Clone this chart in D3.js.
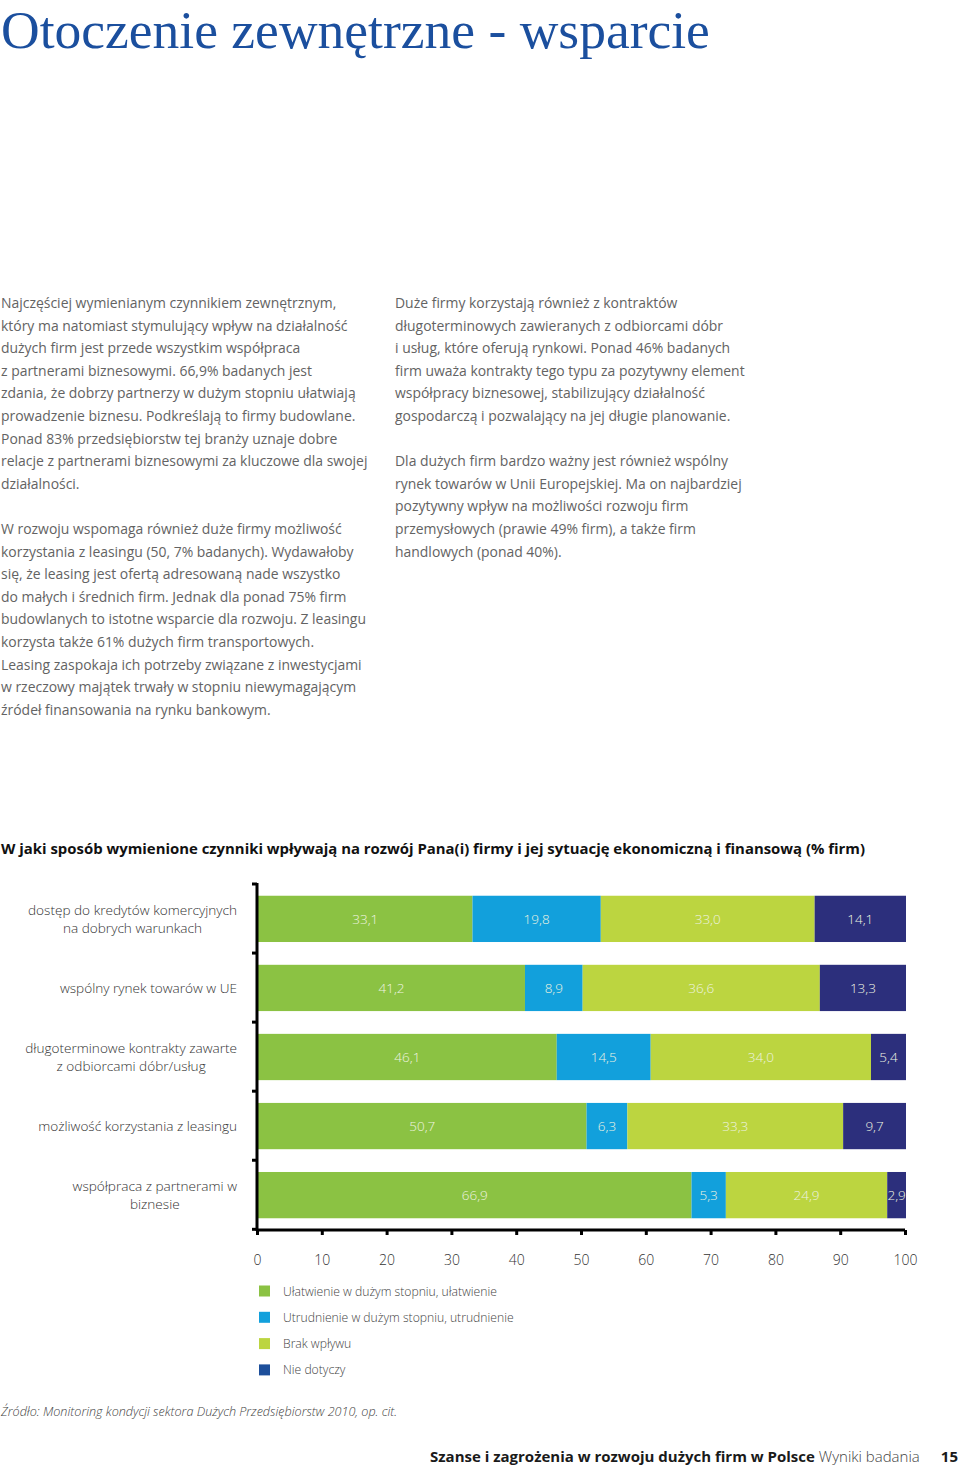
<!DOCTYPE html>
<html><head><meta charset="utf-8">
<script src="https://cdn.jsdelivr.net/npm/d3@7"></script>
<style>
html,body{margin:0;padding:0;background:#fff;}
svg{display:block;}
</style></head>
<body>
<svg id="page" width="960" height="1465"></svg>
<script>
// ---------- DATA ----------
const pageTitle = "Otoczenie zewnętrzne - wsparcie";
const leftColumn = [
 "Najczęściej wymienianym czynnikiem zewnętrznym,",
 "który ma natomiast stymulujący wpływ na działalność",
 "dużych firm jest przede wszystkim współpraca",
 "z partnerami biznesowymi. 66,9% badanych jest",
 "zdania, że dobrzy partnerzy w dużym stopniu ułatwiają",
 "prowadzenie biznesu. Podkreślają to firmy budowlane.",
 "Ponad 83% przedsiębiorstw tej branży uznaje dobre",
 "relacje z partnerami biznesowymi za kluczowe dla swojej",
 "działalności.",
 "",
 "W rozwoju wspomaga również duże firmy możliwość",
 "korzystania z leasingu (50, 7% badanych). Wydawałoby",
 "się, że leasing jest ofertą adresowaną nade wszystko",
 "do małych i średnich firm. Jednak dla ponad 75% firm",
 "budowlanych to istotne wsparcie dla rozwoju. Z leasingu",
 "korzysta także 61% dużych firm transportowych.",
 "Leasing zaspokaja ich potrzeby związane z inwestycjami",
 "w rzeczowy majątek trwały w stopniu niewymagającym",
 "źródeł finansowania na rynku bankowym."
];
const rightColumn = [
 "Duże firmy korzystają również z kontraktów",
 "długoterminowych zawieranych z odbiorcami dóbr",
 "i usług, które oferują rynkowi. Ponad 46% badanych",
 "firm uważa kontrakty tego typu za pozytywny element",
 "współpracy biznesowej, stabilizujący działalność",
 "gospodarczą i pozwalający na jej długie planowanie.",
 "",
 "Dla dużych firm bardzo ważny jest również wspólny",
 "rynek towarów w Unii Europejskiej. Ma on najbardziej",
 "pozytywny wpływ na możliwości rozwoju firm",
 "przemysłowych (prawie 49% firm), a także firm",
 "handlowych (ponad 40%)."
];
const chartTitle = "W jaki sposób wymienione czynniki wpływają na rozwój Pana(i) firmy i jej sytuację ekonomiczną i finansową (% firm)";
const categories = [
 "dostęp do kredytów komercyjnych\nna dobrych warunkach",
 "wspólny rynek towarów w UE",
 "długoterminowe kontrakty zawarte\nz odbiorcami dóbr/usług",
 "możliwość korzystania z leasingu",
 "współpraca z partnerami w\nbiznesie"
];
const seriesNames = [
 "Ułatwienie w dużym stopniu, ułatwienie",
 "Utrudnienie w dużym stopniu, utrudnienie",
 "Brak wpływu",
 "Nie dotyczy"
];
const ulatwienie  = [33.1, 41.2, 46.1, 50.7, 66.9];
const utrudnienie = [19.8,  8.9, 14.5,  6.3,  5.3];
const brakWplywu  = [33.0, 36.6, 34.0, 33.3, 24.9];
const nieDotyczy  = [14.1, 13.3,  5.4,  9.7,  2.9];
const xTicks = [0,10,20,30,40,50,60,70,80,90,100];
const sourceText = "Źródło: Monitoring kondycji sektora Dużych Przedsiębiorstw 2010, op. cit.";
const footerBold = "Szanse i zagrożenia w rozwoju dużych firm w Polsce";
const footerRegular = " Wyniki badania";
const pageNumber = "15";

// ---------- STYLE ----------
const barColors = ["#8bc243", "#12a0dc", "#bcd540", "#2c2f7c"];
const legendColors = ["#8bc243", "#12a0dc", "#bcd540", "#1d4f9b"];
const sans = "'Open Sans', 'Noto Sans', 'DejaVu Sans', sans-serif";

const svg = d3.select("#page");

// Title
const title = svg.append("text")
  .attr("x", 1).attr("y", 48)
  .attr("font-family", "'Liberation Serif', 'DejaVu Serif', serif")
  .attr("font-size", 50).attr("fill", "#1b4f9e")
  .text(pageTitle);
{
  const w = title.node().getComputedTextLength();
  title.attr("font-size", 50 * 709 / w);
}

// Body columns
function column(lines, x, y0) {
  const t = svg.append("text").attr("font-family", sans).attr("font-weight", 400)
    .attr("font-size", 13.95).attr("fill", "#636363");
  lines.forEach((l, i) => {
    t.append("tspan").attr("x", x).attr("y", y0 + i * 22.6).text(l || " ");
  });
}
column(leftColumn, 1, 308);
column(rightColumn, 395, 308);

// Chart title
const ct = svg.append("text").attr("x", 1).attr("y", 854)
  .attr("font-family", sans).attr("font-weight", 700).attr("font-size", 14.8)
  .attr("fill", "#111").text(chartTitle);
ct.attr("textLength", 864).attr("lengthAdjust", "spacingAndGlyphs");

// ---------- CHART ----------
const x = d3.scaleLinear().domain([0, 100]).range([257, 905]);
const y = d3.scaleBand().domain(d3.range(categories.length)).range([884, 1230])
  .paddingInner(0.33).paddingOuter(0.17);

const rows = categories.map((c, i) => ({
  i, s0: ulatwienie[i], s1: utrudnienie[i], s2: brakWplywu[i], s3: nieDotyczy[i]
}));
const stack = d3.stack().keys(["s0", "s1", "s2", "s3"]);
const layers = stack(rows);
const pl = d3.formatLocale({decimal: ",", thousands: " ", grouping: [3], currency: ["", " zł"]});
const fmt = pl.format(".1f");

const g = svg.append("g");
layers.forEach((layer, k) => {
  const lg = g.append("g");
  lg.selectAll("rect").data(layer).join("rect")
    .attr("x", d => x(d[0]) + 1)
    .attr("y", d => y(d.data.i))
    .attr("width", d => x(d[1]) - x(d[0]))
    .attr("height", y.bandwidth())
    .attr("fill", barColors[k]);
  lg.selectAll("text").data(layer).join("text")
    .attr("x", d => (x(d[0]) + x(d[1])) / 2 + 1)
    .attr("y", d => y(d.data.i) + y.bandwidth() / 2 + 5)
    .attr("text-anchor", "middle")
    .attr("font-family", sans).attr("font-weight", 300).attr("font-size", 13.5)
    .attr("fill", "#eef3e0")
    .text(d => fmt(d[1] - d[0]));
});

// Axes
const xAxis = svg.append("g").attr("transform", "translate(0,1230)")
  .call(d3.axisBottom(x).tickValues(xTicks).tickSize(5).tickFormat(d => d));
xAxis.select(".domain").attr("stroke", "#000").attr("stroke-width", 3)
  .attr("d", `M${x(0)},0H${x(100)}`);
xAxis.selectAll(".tick line").attr("stroke", "#000").attr("stroke-width", 3);
xAxis.selectAll(".tick text").attr("dy", 0).attr("y", 35)
  .attr("font-family", sans).attr("font-weight", 300).attr("font-size", 14).attr("fill", "#333");

const yTickPos = d3.range(categories.length + 1).map(i => 884 + i * y.step());
const yAxisG = svg.append("g");
yAxisG.append("line").attr("x1", x(0)).attr("x2", x(0)).attr("y1", 883).attr("y2", 1231)
  .attr("stroke", "#000").attr("stroke-width", 3);
yAxisG.selectAll("line.t").data(yTickPos).join("line").attr("class", "t")
  .attr("x1", x(0) - 5).attr("x2", x(0)).attr("y1", d => d).attr("y2", d => d)
  .attr("stroke", "#000").attr("stroke-width", 3);

// Category labels
categories.forEach((c, i) => {
  const lines = c.split("\n");
  const t = svg.append("text").attr("font-family", sans).attr("font-weight", 300)
    .attr("font-size", 13.6).attr("fill", "#333").attr("text-anchor", "middle");
  const cy = y(i) + y.bandwidth() / 2;
  const lh = 18.5;
  lines.forEach((l, j) => {
    t.append("tspan").attr("y", cy + 5 + (j - (lines.length - 1) / 2) * lh).text(l);
  });
  let maxW = 0;
  t.selectAll("tspan").each(function() {
    maxW = Math.max(maxW, this.getComputedTextLength());
  });
  t.selectAll("tspan").attr("x", 237 - maxW / 2);
});

// Legend
const legend = svg.append("g");
seriesNames.forEach((n, k) => {
  const ly = 1291 + k * 26.3;
  legend.append("rect").attr("x", 259).attr("y", ly - 5.5).attr("width", 11).attr("height", 11)
    .attr("fill", legendColors[k]);
  const lt = legend.append("text").attr("x", 283).attr("y", ly + 4.5)
    .attr("font-family", sans).attr("font-weight", 300).attr("font-size", 11.8).attr("fill", "#444")
    .text(n);
  if (k === 0) {
    const w = lt.node().getComputedTextLength();
    lt.attr("font-size", 11.8 * 214 / w);
  } else {
    lt.attr("font-size", legend.select("text").attr("font-size"));
  }
});

// Source
svg.append("text").attr("x", 1).attr("y", 1416)
  .attr("font-family", sans).attr("font-style", "italic").attr("font-weight", 300)
  .attr("font-size", 12.6).attr("fill", "#444").text(sourceText);

// Footer
const ft = svg.append("text").attr("x", 430).attr("y", 1462)
  .attr("font-family", sans).attr("font-size", 15).attr("fill", "#1a1a1a");
ft.append("tspan").attr("font-weight", 700).text(footerBold);
ft.append("tspan").attr("font-weight", 300).attr("fill", "#444").text(footerRegular);
{
  const w = ft.node().getComputedTextLength();
  if (w > 490) ft.attr("textLength", 490).attr("lengthAdjust", "spacingAndGlyphs");
}
svg.append("text").attr("x", 958).attr("y", 1462).attr("text-anchor", "end")
  .attr("font-family", sans).attr("font-weight", 700).attr("font-size", 15).attr("fill", "#1a1a1a")
  .text(pageNumber);
</script>
</body></html>
